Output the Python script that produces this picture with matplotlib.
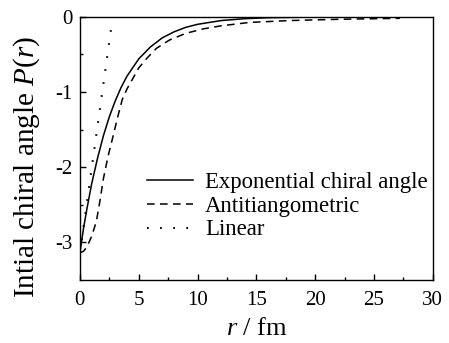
import matplotlib
matplotlib.use("Agg")
import matplotlib.pyplot as plt
import numpy as np

# Exponential chiral angle (solid)
exp_r = [0, 0.3, 0.6, 1.0, 1.5, 2.0, 2.5, 3.0, 3.5, 4.0, 5.0, 6.0, 7.0, 8.0, 9.0,
         10.0, 12.0, 14.0, 16.0, 20.0, 27.5]
exp_P = [-3.14, -2.82, -2.55, -2.22, -1.88, -1.58, -1.33, -1.12, -0.94, -0.79, -0.56,
         -0.40, -0.28, -0.20, -0.14, -0.10, -0.05, -0.025, -0.012, -0.003, 0.0]

# Antitiangometric (dashed)
anti_r = [0, 0.3, 0.6, 1.0, 1.4, 1.7, 2.0, 2.4, 2.8, 3.2, 3.6, 4.0, 4.5, 5.0, 5.7,
          6.5, 7.6, 9.0, 10.5, 12.0, 14.4, 17.8, 22.0, 27.2]
anti_P = [-3.14, -3.12, -3.06, -2.92, -2.72, -2.45, -2.15, -1.85, -1.60, -1.34, -1.10,
          -0.96, -0.82, -0.68, -0.55, -0.42, -0.31, -0.22, -0.16, -0.12, -0.075,
          -0.05, -0.033, -0.02]

# Linear (dotted)
lin_r = [0, 2.7]
lin_P = [-3.14, -0.10]

labels = ["Exponential chiral angle", "Antitiangometric", "Linear"]

plt.rcParams['font.family'] = ['Liberation Serif', 'DejaVu Serif']
plt.rcParams['mathtext.fontset'] = 'custom'
plt.rcParams['mathtext.rm'] = 'Liberation Serif'
plt.rcParams['mathtext.it'] = 'Liberation Serif:italic'

fig = plt.figure(figsize=(4.49, 3.43), dpi=100)
ax = fig.add_axes([0.178, 0.184, 0.786, 0.767])

ax.plot(exp_r, exp_P, color='black', lw=1.1, label=labels[0])
ax.plot(anti_r, anti_P, color='black', lw=1.1, linestyle=(0, (5, 3.5)), label=labels[1])
ax.plot(lin_r, lin_P, color='black', lw=1.5, linestyle=(0, (0.8, 5.5)), label=labels[2])

ax.set_xlim(0, 30)
ax.set_ylim(-3.5, 0)
ax.set_xticks([0, 5, 10, 15, 20, 25, 30])
ax.set_xticks(np.arange(2.5, 30, 5), minor=True)
ax.set_yticks([0, -1, -2, -3])
ax.set_yticklabels(['0', '-1', '-2', '-3'])
ax.set_yticks([-0.5, -1.5, -2.5], minor=True)
ax.tick_params(axis='both', which='both', direction='in', top=False, right=False,
               labelsize=15)
ax.tick_params(axis='x', pad=8)
ax.tick_params(axis='y', pad=5)
ax.tick_params(which='major', length=4.3, width=1)
ax.tick_params(which='minor', length=2.4, width=1)
for s in ax.spines.values():
    s.set_linewidth(1.0)

ax.set_xlabel(r'$\it{r}$ / fm', fontsize=19, labelpad=6)
ax.set_ylabel(r'Intial chiral angle $\it{P}$($\it{r}$)', fontsize=21)
ax.yaxis.set_label_coords(-0.108, 0.43)

leg = ax.legend(loc='upper left', bbox_to_anchor=(0.19, 0.41), frameon=False,
                fontsize=16.4, handlelength=2.0, handletextpad=0.55, labelspacing=0.12,
                borderpad=0, borderaxespad=0)

fig.savefig('out.png', dpi=100)
